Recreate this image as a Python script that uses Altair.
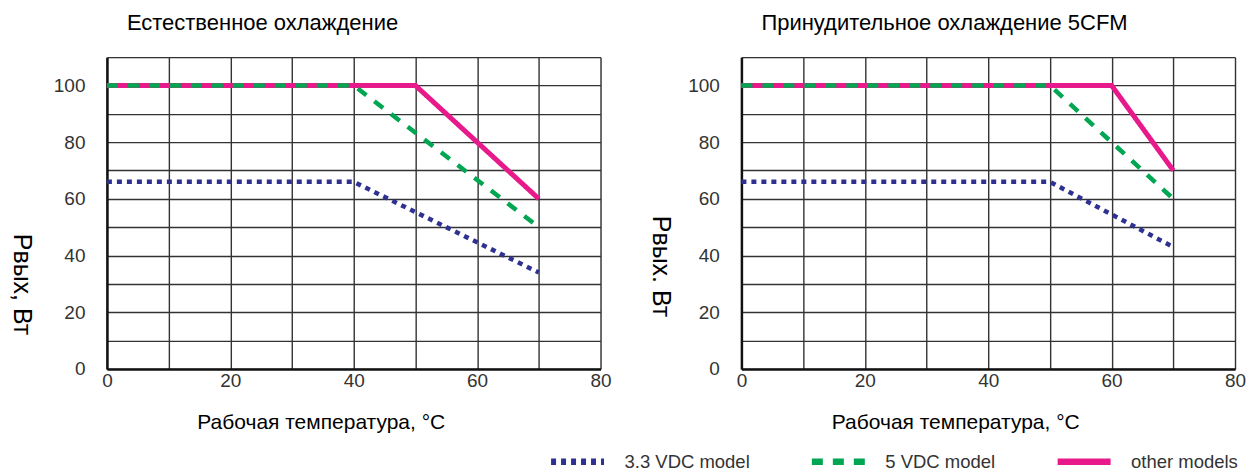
import altair as alt
import pandas as pd

series_names = ["3.3 VDC model", "5 VDC model", "other models"]
series_colors = ["#2E3192", "#00A651", "#E8198B"]
series_dashes = [[5, 5], [11, 10], [1, 0]]
series_widths = [4.5, 4.5, 5]

# Естественное охлаждение
nat_t_33 = [0, 40, 70]
nat_p_33 = [66, 66, 34]
nat_t_5 = [0, 40, 70]
nat_p_5 = [100, 100, 50]
nat_t_oth = [0, 50, 70]
nat_p_oth = [100, 100, 60]

# Принудительное охлаждение 5CFM
frc_t_33 = [0, 50, 70]
frc_p_33 = [66, 66, 43]
frc_t_5 = [0, 50, 70]
frc_p_5 = [100, 100, 60]
frc_t_oth = [0, 60, 70]
frc_p_oth = [100, 100, 70]

x_ticks = list(range(0, 81, 10))
y_ticks = list(range(0, 111, 10))

FONT = "Liberation Sans"


def make_df(groups):
    rows = []
    for name, ts, ps in groups:
        for i, (t, p) in enumerate(zip(ts, ps)):
            rows.append({"s": name, "t": t, "p": p, "i": i})
    return pd.DataFrame(rows)


legend = alt.Legend(
    title=None, orient="none", legendX=441, legendY=375, padding=0,
    direction="horizontal", columns=3,
    symbolType="stroke", symbolSize=2809, symbolStrokeWidth=6.5,
    labelFont=FONT, labelFontSize=18.5,
    labelColor="#333", labelOffset=17, columnPadding=48,
)


def panel(df, title, title_dx, ytitle, ytx, yty, xtx):
    base = alt.Chart(df).encode(
        x=alt.X("t:Q", scale=alt.Scale(domain=[0, 80], nice=False, zero=False),
                axis=alt.Axis(values=x_ticks,
                              labelExpr="datum.value % 20 == 0 ? datum.label : ''",
                              title="Рабочая температура, °С",
                              titleX=xtx, titleY=60, titleAlign="center",
                              titleBaseline="alphabetic",
                              titleFont=FONT, titleFontSize=21, titleFontWeight="normal",
                              titleColor="#000",
                              labelFont=FONT, labelFontSize=19, labelColor="#333",
                              labelFlush=False, labelOverlap=False, labelPadding=3,
                              ticks=False, domainColor="#111", domainWidth=2.5,
                              gridColor="#333", gridWidth=1.4, gridOpacity=1)),
        y=alt.Y("p:Q", scale=alt.Scale(domain=[0, 110], nice=False),
                axis=alt.Axis(values=y_ticks,
                              labelExpr="datum.value % 20 == 0 && datum.value <= 100 ? datum.label : ''",
                              title=ytitle, titleAngle=90, titleX=ytx, titleY=yty,
                              titleAlign="center", titleBaseline="middle",
                              titleFont=FONT, titleFontSize=25, titleFontWeight="normal",
                              titleColor="#000",
                              labelFont=FONT, labelFontSize=19, labelColor="#333",
                              labelOverlap=False, labelPadding=22,
                              ticks=False, domainColor="#111", domainWidth=2.5,
                              gridColor="#333", gridWidth=1.4, gridOpacity=1)),
        color=alt.Color("s:N", scale=alt.Scale(domain=series_names, range=series_colors),
                        legend=legend),
        strokeDash=alt.StrokeDash("s:N", scale=alt.Scale(domain=series_names, range=series_dashes),
                                  legend=legend),
        order="i:Q",
    )
    layers = [
        base.transform_filter(alt.datum.s == name).mark_line(strokeWidth=w, strokeCap="butt")
        for name, w in reversed(list(zip(series_names, series_widths)))
    ]
    return alt.layer(*layers).properties(
        width=494, height=312,
        title=alt.TitleParams(title, anchor="start", frame="group", dx=title_dx,
                              offset=13, font=FONT, fontSize=22, fontWeight="normal",
                              color="#000"),
    )


df_nat = make_df([
    ("3.3 VDC model", nat_t_33, nat_p_33),
    ("5 VDC model", nat_t_5, nat_p_5),
    ("other models", nat_t_oth, nat_p_oth),
])
df_frc = make_df([
    ("3.3 VDC model", frc_t_33, frc_p_33),
    ("5 VDC model", frc_t_5, frc_p_5),
    ("other models", frc_t_oth, frc_p_oth),
])

left = panel(df_nat, "Естественное охлаждение", 20, "Pвых, Вт", -85, 227, 214)
right = panel(df_frc, "Принудительное охлаждение 5CFM", 20, "Pвых. Вт", -81, 209, 214)

chart = alt.hconcat(left, right, spacing=34).resolve_scale(
    color="shared", strokeDash="shared"
).resolve_legend(color="shared", strokeDash="shared").properties(
    padding={"left": 0, "top": 3, "right": 0, "bottom": 0}
).configure_view(stroke="#333", strokeWidth=1.4).configure(background="white")

chart.save("out.html", embed_options={"renderer": "svg", "actions": False})
